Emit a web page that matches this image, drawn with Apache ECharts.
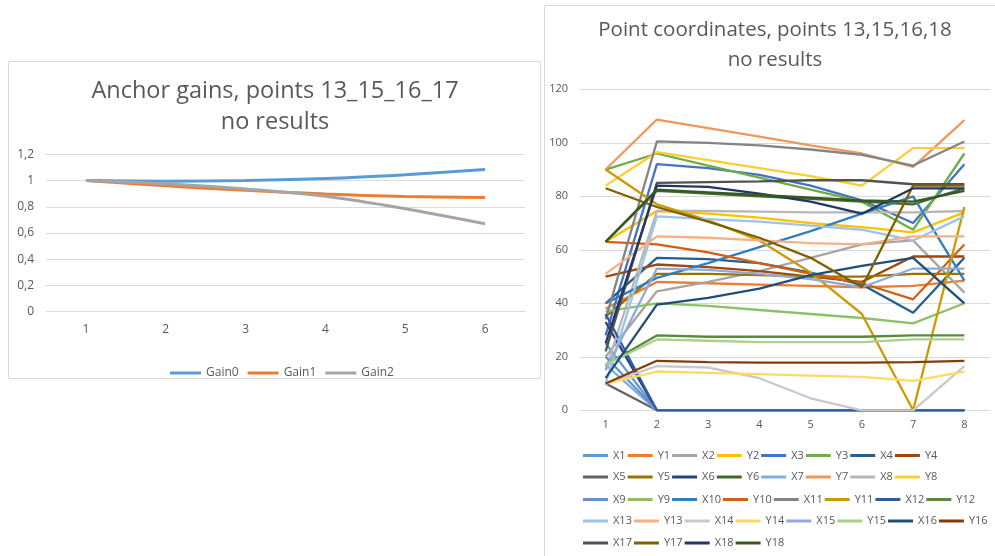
<!DOCTYPE html>
<html><head><meta charset="utf-8">
<script src="https://cdn.jsdelivr.net/npm/echarts@6/dist/echarts.min.js"></script>
<style>html,body{margin:0;padding:0;background:#fff}#c{width:995px;height:556px}</style>
</head><body><div id="c"></div>
<script>
// ---- Left chart data ----
const gainCats = ['1','2','3','4','5','6'];
const Gain0 = [1, 0.995, 1.0, 1.015, 1.045, 1.085];
const Gain1 = [1, 0.96, 0.925, 0.897, 0.878, 0.87];
const Gain2 = [1, 0.975, 0.935, 0.88, 0.785, 0.67];

// ---- Right chart data ----
const pointCats = ['1','2','3','4','5','6','7','8'];
const X1  = [25, 0, 0, 0, 0, 0, 0, 0];
const Y1  = [38, 48, 47.5, 47, 46.5, 46, 46.5, 48.5];
const X2  = [20, 44.5, 48, 52, 57, 62, 63.5, 44];
const Y2  = [63, 74.5, 73.5, 72, 70, 68.5, 66.5, 74];
const X3  = [28, 92, 90.5, 88, 84, 78.5, 70, 92];
const Y3  = [90, 96, 91.5, 87, 82.5, 78, 67.5, 96];
const X4  = [40, 57, 56.5, 55, 51.5, 47, 36.5, 57];
const Y4  = [50, 54.5, 53.5, 52, 50, 48, 57.5, 57.5];
const X5  = [10, 0, 0, 0, 0, 0, 0, 0];
const Y5  = [35, 51, 51, 50.5, 50, 50, 51, 51];
const X6  = [33, 0, 0, 0, 0, 0, 0, 0];
const Y6  = [63, 82, 81, 80, 79, 78, 77, 83];
const X7  = [17, 0, 0, 0, 0, 0, 0, 0];
const Y7  = [90, 108.7, 105.5, 102.3, 99, 96, 91, 108.5];
const X8  = [15, 74.5, 74.5, 74.3, 74, 74, 74, 74.5];
const Y8  = [84, 96.5, 93.5, 90.5, 87.5, 84, 98, 98];
const X9  = [20, 0, 0, 0, 0, 0, 0, 0];
const Y9  = [37, 40, 39, 37.5, 36, 34.5, 32.5, 40];
const X10 = [40, 49.5, 55, 61, 67, 73.5, 80, 48.5];
const Y10 = [63, 62, 59, 55, 51, 47.5, 41.5, 62];
const X11 = [34, 100.5, 100, 99, 97.5, 95.5, 91.5, 100.5];
const Y11 = [90, 77, 71, 63.5, 51.5, 36, 0, 76];
const X12 = [36, 0, 0, 0, 0, 0, 0, 0];
const Y12 = [17, 28, 27.5, 27.5, 27.5, 27.5, 28, 28];
const X13 = [10, 72.5, 71.5, 70.5, 69, 67.5, 63.5, 72.5];
const Y13 = [51, 65, 64.5, 63.5, 62.5, 62, 65, 65];
const X14 = [10, 16.5, 16, 12, 4.5, 0, 0, 16.5];
const Y14 = [10, 14.5, 14, 13.5, 13, 12.5, 11, 14.5];
const X15 = [15, 53, 52.5, 51, 49, 46, 53, 53];
const Y15 = [17, 26.5, 26, 25.5, 25.5, 25.5, 26.5, 26.5];
const X16 = [12, 39.5, 42, 45.5, 50.5, 54, 57, 40];
const Y16 = [10, 18.5, 18, 17.8, 17.8, 17.8, 18, 18.5];
const X17 = [22, 85, 85.3, 85.6, 86, 86, 84.5, 84.5];
const Y17 = [83, 76, 70.5, 64.5, 57, 46, 84, 84];
const X18 = [25, 84, 83.5, 81, 78, 73.5, 83, 83];
const Y18 = [63, 82.5, 81.5, 80.5, 79.5, 78.5, 78, 82];

const pointNames = ['X1','Y1','X2','Y2','X3','Y3','X4','Y4','X5','Y5','X6','Y6','X7','Y7','X8','Y8','X9','Y9',
  'X10','Y10','X11','Y11','X12','Y12','X13','Y13','X14','Y14','X15','Y15','X16','Y16','X17','Y17','X18','Y18'];
const pointData = [X1,Y1,X2,Y2,X3,Y3,X4,Y4,X5,Y5,X6,Y6,X7,Y7,X8,Y8,X9,Y9,
  X10,Y10,X11,Y11,X12,Y12,X13,Y13,X14,Y14,X15,Y15,X16,Y16,X17,Y17,X18,Y18];
const pointColors = ['#5B9BD5','#ED7D31','#A5A5A5','#FFC000','#4472C4','#70AD47',
  '#255E91','#9E480E','#636363','#997300','#264478','#43682B',
  '#7CAFDD','#F1975A','#B7B7B7','#FFCD33','#698ED0','#8CC168',
  '#327DC2','#D26012','#848484','#CC9A00','#335AA1','#5A8A39',
  '#9DC3E6','#F4B183','#C9C9C9','#FFD966','#8FAADC','#A9D18E',
  '#1F4E79','#843C0C','#525252','#7F6000','#203864','#385723'];

const FONT = '"Open Sans", "Noto Sans", sans-serif';
const TXT = '#595959';
const GRIDC = '#d9d9d9';

const chart = echarts.init(document.getElementById('c'), null, {renderer:'canvas'});

const series = [];
[['Gain0',Gain0,'#5B9BD5'],['Gain1',Gain1,'#ED7D31'],['Gain2',Gain2,'#A5A5A5']].forEach(([n,d,c])=>{
  series.push({name:n,type:'line',xAxisIndex:0,yAxisIndex:0,data:d,smooth:0.35,symbol:'none',
    lineStyle:{color:c,width:3},itemStyle:{color:c}});
});
pointNames.forEach((n,i)=>{
  series.push({name:n,type:'line',xAxisIndex:1,yAxisIndex:1,data:pointData[i],symbol:'none',
    lineStyle:{color:pointColors[i],width:2.3},itemStyle:{color:pointColors[i]}});
});

const rowTops = [452, 473.5, 496, 517.5, 539.5];
const legends = [{
  data:['Gain0','Gain1','Gain2'], left:165, top:362, icon:'rect', itemWidth:31, itemHeight:3, itemGap:9,
  textStyle:{color:TXT,fontSize:12,fontFamily:FONT}
}];
for (let r=0;r<5;r++){
  legends.push({data:pointNames.slice(r*8,r*8+8), left:578, top:rowTops[r]-7, icon:'rect',
    itemWidth:25, itemHeight:3, itemGap:2, selectedMode:false,
    textStyle:{color:TXT,fontSize:11,fontFamily:FONT,width:17.3,overflow:'none'}});
}

chart.setOption({
  animation:false,
  backgroundColor:'#fff',
  textStyle:{fontFamily:FONT},
  graphic:[
    {type:'rect',shape:{x:8.5,y:61.5,width:532,height:317},style:{fill:'none',stroke:GRIDC,lineWidth:1},z:-1},
    {type:'rect',shape:{x:544.5,y:5.5,width:460,height:560},style:{fill:'none',stroke:GRIDC,lineWidth:1},z:-1}
  ],
  title:[
    {text:'Anchor gains, points 13_15_16_17\nno results',left:275,top:76,textAlign:'center',padding:0,
      textStyle:{color:TXT,fontSize:23.5,fontWeight:'normal',lineHeight:31,fontFamily:FONT}},
    {text:'Point coordinates, points 13,15,16,18\nno results',left:775,top:15,textAlign:'center',padding:0,
      textStyle:{color:TXT,fontSize:20.5,fontWeight:'normal',lineHeight:30,fontFamily:FONT}}
  ],
  legend:legends,
  grid:[
    {left:46,right:470,top:154.3,bottom:244.3},
    {left:580,right:5,top:89.3,bottom:145.7}
  ],
  xAxis:[
    {type:'category',gridIndex:0,data:gainCats,boundaryGap:true,
      axisLine:{show:true,lineStyle:{color:GRIDC}},axisTick:{show:false},
      axisLabel:{color:TXT,fontSize:12,margin:12}},
    {type:'category',gridIndex:1,data:pointCats,boundaryGap:true,
      axisLine:{show:true,lineStyle:{color:GRIDC}},axisTick:{show:false},
      axisLabel:{color:TXT,fontSize:11,margin:9}}
  ],
  yAxis:[
    {type:'value',gridIndex:0,min:0,max:1.2,interval:0.2,
      axisLine:{show:false},axisTick:{show:false},
      splitLine:{lineStyle:{color:GRIDC}},
      axisLabel:{color:TXT,fontSize:12,margin:12,
        formatter:v=>{let s=(Math.round(v*10)/10).toString();return s.replace('.',',');}}},
    {type:'value',gridIndex:1,min:0,max:120,interval:20,
      axisLine:{show:false},axisTick:{show:false},
      splitLine:{lineStyle:{color:GRIDC}},
      axisLabel:{color:TXT,fontSize:11,margin:12}}
  ],
  series:series
});
</script></body></html>
